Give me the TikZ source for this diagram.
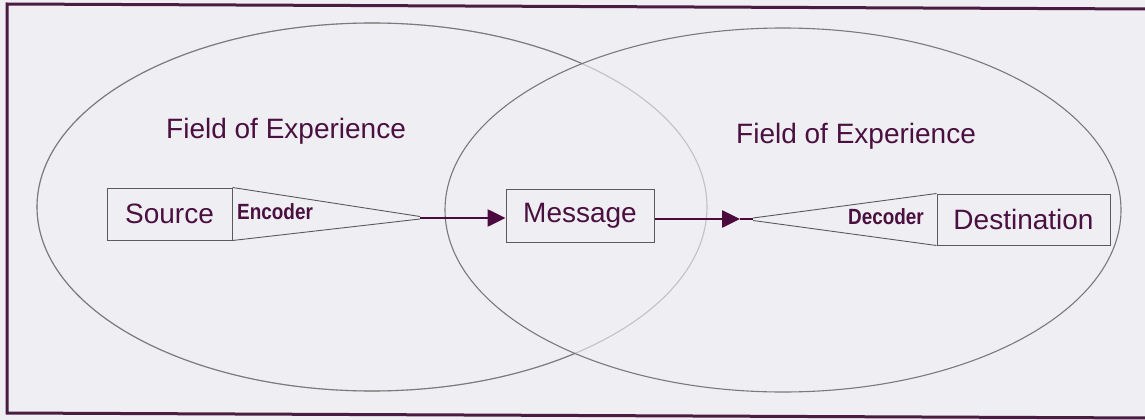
\documentclass[tikz,border=0pt]{standalone}
\usepackage{fontspec}
\setmainfont{Liberation Sans}
\usetikzlibrary{arrows.meta}
\definecolor{pagebg}{HTML}{EFEEF3}
\definecolor{framecol}{HTML}{4A1C42}
\definecolor{inkpurple}{HTML}{4A1040}
\definecolor{arrowcol}{HTML}{4D0A3E}
\definecolor{edgegrey}{HTML}{5A5A5A}
\definecolor{fieldgrey}{HTML}{7A7A7A}
\definecolor{fieldpale}{HTML}{C2C2C6}
\tikzset{
  field/.style={draw=fieldgrey, line width=1.1pt},
  label28/.style={text=inkpurple, font=\fontsize{28}{30}\selectfont, inner sep=0pt},
  boxnode/.style={draw=edgegrey, line width=1pt, inner sep=0pt, text=inkpurple,
    font=\fontsize{28}{30}\selectfont},
  coderlabel/.style={text=inkpurple, inner sep=0pt,
    font=\fontsize{22}{24}\selectfont\bfseries},
  funnel/.style={draw=edgegrey, line width=0.9pt},
  flow/.style={draw=arrowcol, line width=2.6pt, -{Triangle[length=18pt,width=17pt]}},
}
\newcommand{\narrow}[1]{\scalebox{0.86}[1]{#1}}
\begin{document}
\begin{tikzpicture}[x=1pt,y=-1pt]
  \useasboundingbox (0,0) rectangle (1145,420);
  \fill[pagebg] (0,0) rectangle (1145,420);
  % outer frame
  \draw[framecol, line width=3pt] (1152,9) -- (7,4) -- (7,413) -- (1152,418);

  % the two fields of experience; the left one fades where it lies inside the right one
  \draw[field, draw=fieldpale] (372,207) ellipse [x radius=335, y radius=184];
  \begin{scope}[even odd rule]
    \clip (0,0) rectangle (1145,420)
      (783,210) ellipse [x radius=338, y radius=182];
    \draw[field] (372,207) ellipse [x radius=335, y radius=184];
  \end{scope}
  \draw[field] (783,210) ellipse [x radius=338, y radius=182];

  \node[label28, anchor=base west] (fieldL) at (166,138) {Field of Experience};
  \node[label28, anchor=base west] (fieldR) at (736,143.5) {Field of Experience};

  % boxes
  \node[boxnode, minimum width=125pt, minimum height=52pt] (src) at (169.5,214) {Source};
  \node[boxnode, minimum width=148pt, minimum height=53pt] (msg) at (580,215.5) {Message};
  \node[boxnode, minimum width=173pt, minimum height=51pt] (dst) at (1023.5,219.5) {Destination};

  % encoder funnel
  \coordinate (enctip) at (420,218);
  \draw[funnel] (src.north east) -- (enctip |- 0,216.5) (src.south east) -- (enctip |- 0,219);
  \node[coderlabel, anchor=west] (enc) at (237,212) {\narrow{Encoder}};

  % decoder funnel
  \coordinate (dectip) at (753,219);
  \draw[funnel] (dst.north west) -- (dectip |- 0,218) (dst.south west) -- (dectip |- 0,220.5);
  \node[coderlabel, anchor=east] (dec) at (924,217) {\narrow{Decoder}};

  % message flow
  \draw[flow] (enctip) -- (msg.west |- enctip);
  \coordinate (msgout) at (740,219);
  \draw[flow] (msg.east |- msgout) -- (msgout);
  \draw[arrowcol, line width=1.6pt] (msgout) -- (dectip);
\end{tikzpicture}
\end{document}
